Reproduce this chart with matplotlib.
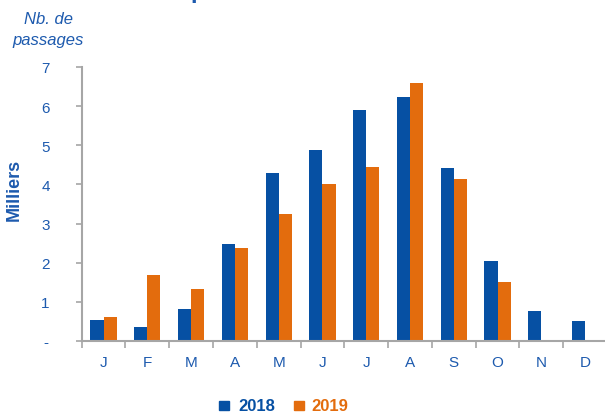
import matplotlib
matplotlib.use("Agg")
import matplotlib.pyplot as plt
import numpy as np

months = ["J", "F", "M", "A", "M", "J", "J", "A", "S", "O", "N", "D"]
v2018 = [0.54, 0.35, 0.82, 2.47, 4.30, 4.87, 5.90, 6.23, 4.41, 2.04, 0.77, 0.51]
v2019 = [0.61, 1.68, 1.34, 2.37, 3.24, 4.00, 4.44, 6.60, 4.14, 1.51, None, None]
ytick_vals = [0, 1, 2, 3, 4, 5, 6, 7]
ytick_labels = ["-", "1", "2", "3", "4", "5", "6", "7"]
series_names = ["2018", "2019"]

BLUE = "#0650A3"
ORANGE = "#E36C0D"
TXT = "#1D5AAE"
GREY = "#A6A6A6"

plt.rcParams['font.family'] = ['Liberation Sans', 'DejaVu Sans']

fig = plt.figure(figsize=(6.05, 4.14), dpi=100)
ax = fig.add_axes([81.7/605, (414-342)/414, (607-81.7)/605, (342-68)/414])

x = np.arange(len(months)) + 0.5
w = 0.30
ax.bar(x - w/2, v2018, width=w, color=BLUE, edgecolor="none")
x19 = [xi + w/2 for xi, v in zip(x, v2019) if v is not None]
y19 = [v for v in v2019 if v is not None]
ax.bar(x19, y19, width=w, color=ORANGE, edgecolor="none")

ax.set_xlim(0, 12)
ax.set_ylim(0, 7)

for s in ["top", "right"]:
    ax.spines[s].set_visible(False)
for s in ["left", "bottom"]:
    ax.spines[s].set_color(GREY)
    ax.spines[s].set_linewidth(1.5)

ax.set_yticks(ytick_vals)
ax.set_yticklabels(ytick_labels)
ax.tick_params(axis="y", direction="out", length=4, width=1.2, color=GREY,
               labelcolor=TXT, labelsize=11, pad=22)
for lab in ax.get_yticklabels():
    lab.set_horizontalalignment("center")

ax.set_xticks(np.arange(0, 13))
ax.set_xticklabels([])
ax.tick_params(axis="x", which="major", direction="out", length=5, width=1.2, color=GREY)
ax.set_xticks(x, minor=True)
ax.set_xticklabels(months, minor=True)
ax.tick_params(axis="x", which="minor", length=0, labelcolor=TXT, labelsize=11, pad=10)

fig.text(14/605, 1-190/414, "Milliers", rotation=90, ha="center", va="center",
         fontsize=13, fontweight="bold", color=TXT)
fig.text(48/605, 1-20/414, "Nb. de", ha="center", va="center",
         fontsize=12, style="italic", color=TXT)
fig.text(48/605, 1-40/414, "passages", ha="center", va="center",
         fontsize=12, style="italic", color=TXT)

# cut-off title fragment (only the descender is visible in the reference)
fig.text(190/605, 1 + 2/414, "p", ha="left", va="baseline", fontsize=17,
         fontweight="bold", color=TXT)

# legend
fig.patches.append(plt.Rectangle((219/605, 1-411/414), 10/605, 9/414,
                                 transform=fig.transFigure, color=BLUE))
fig.text(238/605, 1-407/414, series_names[0], ha="left", va="center",
         fontsize=12, fontweight="bold", color=BLUE)
fig.patches.append(plt.Rectangle((294/605, 1-411/414), 10/605, 9/414,
                                 transform=fig.transFigure, color=ORANGE))
fig.text(311/605, 1-407/414, series_names[1], ha="left", va="center",
         fontsize=12, fontweight="bold", color=ORANGE)

fig.savefig("out.png", dpi=100)
